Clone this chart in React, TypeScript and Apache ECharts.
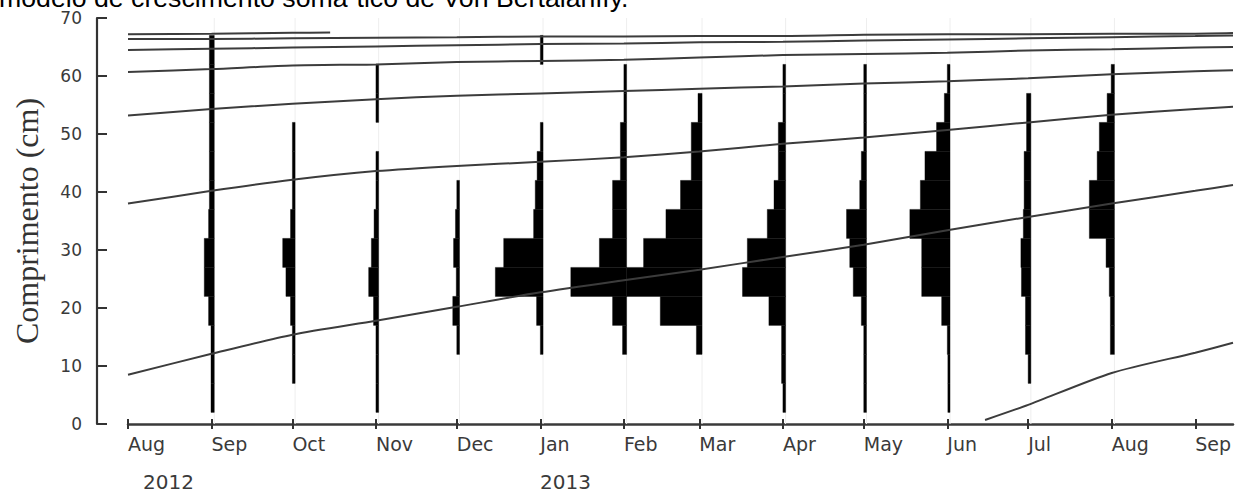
import React, { useEffect, useRef } from 'react';
import * as echarts from 'echarts';

const DAY = 86400000;
const toT = (s: string) => {
  const [y, m, d] = s.split('-').map(Number);
  return Date.UTC(y, m - 1, d);
};

// ---- axis ticks / labels ----
const xMin = '2012-08-01';
const xMax = '2013-09-15';
const monthTicks = [
  '2012-08-01', '2012-09-01', '2012-10-01', '2012-11-01', '2012-12-01', '2013-01-01', '2013-02-01',
  '2013-03-01', '2013-04-01', '2013-05-01', '2013-06-01', '2013-07-01', '2013-08-01', '2013-09-01',
];
const monthTickLabels = ['Aug', 'Sep', 'Oct', 'Nov', 'Dec', 'Jan', 'Feb', 'Mar', 'Apr', 'May', 'Jun', 'Jul', 'Aug', 'Sep'];
const yearLabels = ['2012', '2013'];
const titleText = 'modelo de crescimento soma´tico de Von Bertalanffy.';
const yName = 'Comprimento (cm)';

// ---- length classes (cm) ----
const binLower = [2, 7, 12, 17, 22, 27, 32, 37, 42, 47, 52, 57, 62];
const binUpper = [7, 12, 17, 22, 27, 32, 37, 42, 47, 52, 57, 62, 67];

// ---- samples (frequency per length class, bars drawn to the left of the sample date) ----
const sampleDates = [
  '2012-09-02', '2012-10-02', '2012-11-02', '2012-12-02', '2013-01-02', '2013-02-02',
  '2013-03-02', '2013-04-02', '2013-05-02', '2013-06-02', '2013-07-02', '2013-08-02',
];
const sepFreq = [1.2, 1.2, 1.2, 2.1, 3.7, 3.7, 2.1, 1.8, 1.8, 1.8, 1.8, 1.8, 1.8];
const octFreq = [0, 1, 1, 1.7, 3.4, 4.6, 1.7, 1, 1, 1, 0, 0, 0];
const novFreq = [1, 1, 1, 1.9, 3.7, 2.7, 1.7, 1, 1, 0, 1, 1, 0];
const decFreq = [0, 0, 1, 2.5, 1.2, 2.2, 1.5, 1, 0, 0, 0, 0, 0];
const janFreq = [0, 0, 1, 2.4, 17.7, 14.6, 3.5, 2.9, 2.2, 1, 0, 0, 1];
const febFreq = [0, 0, 1.5, 5.2, 20.7, 10.1, 5.2, 5.2, 2.3, 2.3, 1, 1, 0];
const marFreq = [0, 0, 2.1, 15.5, 28, 21.7, 13.4, 8, 4, 4, 1.5, 0, 0];
const aprFreq = [1, 1.5, 1.5, 6.2, 16, 14.2, 6.8, 4.3, 2.7, 2.7, 1, 1, 0];
const mayFreq = [1, 1, 1, 1.9, 4.9, 6.2, 7.4, 2.5, 1.9, 1, 1, 1, 0];
const junFreq = [0.8, 0.8, 1, 3.1, 10.5, 10.5, 14.9, 11, 9.3, 5, 2.1, 1, 0];
const julFreq = [0, 1, 2, 2, 3.5, 3.7, 2.8, 2.5, 2.5, 1.6, 1.6, 0, 0];
const augFreq = [0, 0, 1.5, 1.5, 1.9, 3.1, 9.3, 9.3, 6.4, 5.6, 2.7, 1.2, 0];
const sampleFreqs = [sepFreq, octFreq, novFreq, decFreq, janFreq, febFreq, marFreq, aprFreq, mayFreq, junFreq, julFreq, augFreq];
const DAYS_PER_FISH = 1;

// ---- growth curves (Von Bertalanffy cohorts) ----
const curveDates = [
  '2012-08-01', '2012-09-01', '2012-10-01', '2012-11-01', '2012-12-01', '2013-01-01', '2013-02-01',
  '2013-03-01', '2013-04-01', '2013-05-01', '2013-06-01', '2013-07-01', '2013-08-01', '2013-09-01', '2013-09-15',
];
const cohortA = [8.5, 12.1, 15.4, 17.8, 20.2, 22.7, 24.8, 26.6, 28.8, 30.9, 33.4, 35.7, 38.0, 40.2, 41.2];
const cohortB = [38.0, 40.2, 42.1, 43.6, 44.5, 45.2, 46.0, 47.0, 48.3, 49.4, 50.7, 52.0, 53.3, 54.3, 54.7];
const cohortC = [53.2, 54.3, 55.2, 56.0, 56.6, 57.0, 57.4, 57.8, 58.2, 58.7, 59.1, 59.6, 60.3, 60.8, 61.0];
const cohortD = [60.7, 61.2, 61.8, 62.0, 62.4, 62.6, 62.8, 63.2, 63.6, 63.8, 64.0, 64.4, 64.6, 64.9, 65.0];
const cohortE = [64.5, 64.7, 64.9, 65.1, 65.3, 65.5, 65.6, 65.8, 65.9, 66.1, 66.3, 66.5, 66.7, 66.9, 67.0];
const cohortF = [66.4, 66.4, 66.5, 66.6, 66.7, 66.8, 66.8, 66.9, 66.9, 67.1, 67.2, 67.2, 67.3, 67.3, 67.4];
const oldCohortDates = ['2012-08-01', '2012-09-01', '2012-10-01', '2012-10-15'];
const oldCohort = [67.2, 67.3, 67.45, 67.5];
const newCohortDates = ['2013-06-15', '2013-07-01', '2013-08-01', '2013-09-01', '2013-09-15'];
const newCohort = [0.7, 3.3, 8.8, 12.3, 14.0];

export default function App() {
  const ref = useRef<HTMLDivElement>(null);

  useEffect(() => {
    if (!ref.current) return;
    const chart = echarts.init(ref.current, undefined, { renderer: 'svg' });

    const tickTs = monthTicks.map(toT);
    const sampleTs = sampleDates.map(toT);

    const barData: number[][] = [];
    sampleFreqs.forEach((freq, si) => {
      freq.forEach((c, bi) => {
        if (c > 0) barData.push([sampleTs[si], binLower[bi], binUpper[bi], c]);
      });
    });

    const mkCurve = (dates: string[], vals: number[]) => dates.map((d, i) => [toT(d), vals[i]]);
    const curves = [
      mkCurve(oldCohortDates, oldCohort),
      mkCurve(curveDates, cohortF),
      mkCurve(curveDates, cohortE),
      mkCurve(curveDates, cohortD),
      mkCurve(curveDates, cohortC),
      mkCurve(curveDates, cohortB),
      mkCurve(curveDates, cohortA),
      mkCurve(newCohortDates, newCohort),
    ];

    const labelFont = 'DejaVu Sans, Verdana, sans-serif';

    const option: any = {
      animation: false,
      backgroundColor: '#ffffff',
      grid: { left: 128, right: 9, top: 18, bottom: 69, containLabel: false },
      xAxis: [
        {
          type: 'value',
          min: toT(xMin),
          max: toT(xMax),
          position: 'bottom',
          axisLine: { show: true, onZero: false, lineStyle: { color: '#3a3a3a', width: 2.5 } },
          axisTick: { show: true, customValues: tickTs, length: 5, lineStyle: { color: '#333', width: 2 } },
          axisLabel: {
            show: true,
            customValues: tickTs,
            formatter: (v: number) => {
              const i = tickTs.indexOf(v);
              return i >= 0 ? monthTickLabels[i] : '';
            },
            align: 'left',
            margin: 10,
            fontFamily: labelFont,
            fontSize: 19,
            color: '#3a3a3a',
          },
          splitLine: { show: false },
        },
        {
          type: 'value',
          min: toT(xMin),
          max: toT(xMax),
          position: 'bottom',
          axisLine: { show: false, onZero: false },
          axisTick: { show: true, inside: true, customValues: tickTs, length: 5, lineStyle: { color: '#333', width: 2 } },
          axisLabel: { show: false },
          splitLine: { show: false },
        },
      ],
      yAxis: {
        type: 'value',
        min: 0,
        max: 70,
        interval: 10,
        offset: 31,
        axisLine: { show: true, lineStyle: { color: '#333', width: 2.2 } },
        axisTick: { show: true, inside: true, length: 10, lineStyle: { color: '#333', width: 2 } },
        axisLabel: { fontFamily: labelFont, fontSize: 17, color: '#3a3a3a', margin: 15 },
        splitLine: { show: false },
        name: yName,
        nameLocation: 'middle',
        nameGap: 54,
        nameTextStyle: { fontFamily: 'Liberation Serif, Times New Roman, serif', fontSize: 32, color: '#333' },
      },
      graphic: [
        {
          type: 'text',
          x: -1,
          y: -16,
          style: { text: titleText, font: '26.7px "Liberation Sans", Arial, sans-serif', fill: '#000', verticalAlign: 'top' },
        },
        {
          type: 'text',
          x: 143,
          y: 471.5,
          style: { text: yearLabels[0], font: '20px "DejaVu Sans", Verdana, sans-serif', fill: '#3a3a3a', verticalAlign: 'top' },
        },
        {
          type: 'text',
          x: 540,
          y: 471.5,
          style: { text: yearLabels[1], font: '20px "DejaVu Sans", Verdana, sans-serif', fill: '#3a3a3a', verticalAlign: 'top' },
        },
      ],
      series: [
        {
          type: 'custom',
          name: 'guides',
          silent: true,
          data: sampleTs.map((t) => [t]),
          encode: { x: 0 },
          renderItem: (_p: any, api: any) => {
            const t = api.value(0);
            const a = api.coord([t, 0]);
            const b = api.coord([t, 70]);
            return {
              type: 'line',
              shape: { x1: a[0], y1: a[1], x2: b[0], y2: b[1] },
              style: { stroke: '#eeeeee', lineWidth: 1 },
            };
          },
          z: 1,
        },
        {
          type: 'custom',
          name: 'frequencies',
          silent: true,
          data: barData,
          encode: { x: 0, y: [1, 2] },
          renderItem: (_p: any, api: any) => {
            const t = api.value(0);
            const lo = api.value(1);
            const hi = api.value(2);
            const c = api.value(3);
            const p0 = api.coord([t - c * DAYS_PER_FISH * DAY, hi]);
            const p1 = api.coord([t, lo]);
            return {
              type: 'rect',
              shape: { x: p0[0], y: p0[1], width: p1[0] - p0[0], height: p1[1] - p0[1] },
              style: { fill: '#000', stroke: '#000', lineWidth: 0.4 },
            };
          },
          z: 2,
        },
        ...curves.map((data, i) => ({
          type: 'line',
          name: 'cohort' + i,
          data,
          showSymbol: false,
          symbol: 'none',
          smooth: 0.25,
          silent: true,
          lineStyle: { color: '#3c3c3c', width: 2 },
          z: 3,
        })),
      ],
    };

    chart.setOption(option);
    return () => chart.dispose();
  }, []);

  return (
    <div
      ref={ref}
      style={{ position: 'fixed', left: 0, top: 0, width: '1242px', height: '493px', background: '#fff' }}
    />
  );
}
